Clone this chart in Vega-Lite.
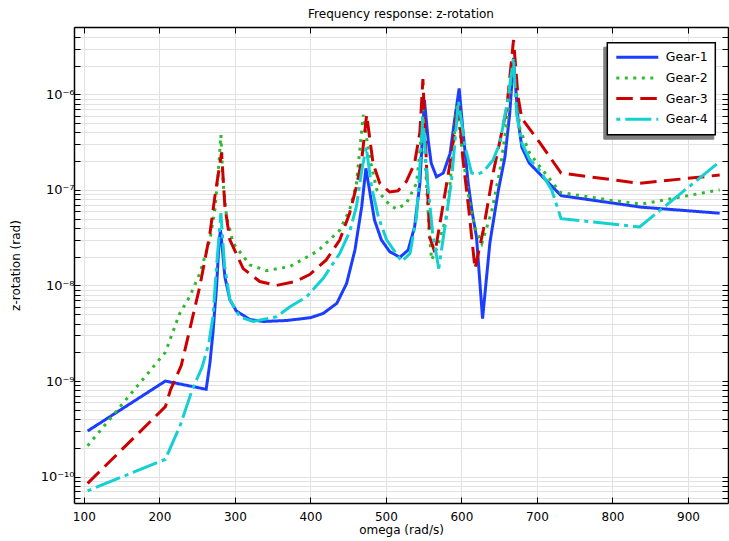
{
  "$schema": "https://vega.github.io/schema/vega-lite/v6.json",
  "width": 654,
  "height": 476,
  "autosize": {"type": "none"},
  "padding": {"left": 74, "top": 27, "right": 1, "bottom": 38},
  "background": "white",
  "title": {"text": "Frequency response: z-rotation", "font": "DejaVu Sans", "fontSize": 12, "fontWeight": "normal", "anchor": "middle", "offset": 0, "color": "black"},
  "config": {"view": {"stroke": null}, "font": "DejaVu Sans"},
  "datasets": {
    "curves": [
      {"gear": "Gear-1", "omega": 105, "z": 3.0e-10},
      {"gear": "Gear-1", "omega": 208, "z": 1.0e-9},
      {"gear": "Gear-1", "omega": 262, "z": 8.2e-10},
      {"gear": "Gear-1", "omega": 267, "z": 1.55e-9},
      {"gear": "Gear-1", "omega": 271, "z": 3.2e-9},
      {"gear": "Gear-1", "omega": 275.8, "z": 9.8e-9},
      {"gear": "Gear-1", "omega": 279, "z": 2.76e-8},
      {"gear": "Gear-1", "omega": 281, "z": 3.8e-8},
      {"gear": "Gear-1", "omega": 283.6, "z": 2.35e-8},
      {"gear": "Gear-1", "omega": 286.8, "z": 1.23e-8},
      {"gear": "Gear-1", "omega": 293.4, "z": 7.1e-9},
      {"gear": "Gear-1", "omega": 302, "z": 5.4e-9},
      {"gear": "Gear-1", "omega": 320, "z": 4.4e-9},
      {"gear": "Gear-1", "omega": 337.5, "z": 4.2e-9},
      {"gear": "Gear-1", "omega": 368.5, "z": 4.3e-9},
      {"gear": "Gear-1", "omega": 400, "z": 4.6e-9},
      {"gear": "Gear-1", "omega": 417, "z": 5.1e-9},
      {"gear": "Gear-1", "omega": 435, "z": 6.5e-9},
      {"gear": "Gear-1", "omega": 448, "z": 1.05e-8},
      {"gear": "Gear-1", "omega": 459, "z": 2.35e-8},
      {"gear": "Gear-1", "omega": 468, "z": 6.7e-8},
      {"gear": "Gear-1", "omega": 473.5, "z": 1.68e-7},
      {"gear": "Gear-1", "omega": 479, "z": 9.2e-8},
      {"gear": "Gear-1", "omega": 485, "z": 4.8e-8},
      {"gear": "Gear-1", "omega": 494, "z": 3.0e-8},
      {"gear": "Gear-1", "omega": 505, "z": 2.26e-8},
      {"gear": "Gear-1", "omega": 518.5, "z": 1.97e-8},
      {"gear": "Gear-1", "omega": 529.5, "z": 2.35e-8},
      {"gear": "Gear-1", "omega": 538, "z": 4.1e-8},
      {"gear": "Gear-1", "omega": 545, "z": 1.17e-7},
      {"gear": "Gear-1", "omega": 551, "z": 8.7e-7},
      {"gear": "Gear-1", "omega": 556, "z": 3.3e-7},
      {"gear": "Gear-1", "omega": 560, "z": 1.9e-7},
      {"gear": "Gear-1", "omega": 567, "z": 1.37e-7},
      {"gear": "Gear-1", "omega": 576, "z": 1.5e-7},
      {"gear": "Gear-1", "omega": 585, "z": 2.4e-7},
      {"gear": "Gear-1", "omega": 591, "z": 5.4e-7},
      {"gear": "Gear-1", "omega": 597, "z": 1.15e-6},
      {"gear": "Gear-1", "omega": 602, "z": 4.2e-7},
      {"gear": "Gear-1", "omega": 609, "z": 1.17e-7},
      {"gear": "Gear-1", "omega": 614, "z": 6.0e-8},
      {"gear": "Gear-1", "omega": 620, "z": 3.2e-8},
      {"gear": "Gear-1", "omega": 628, "z": 4.5e-9},
      {"gear": "Gear-1", "omega": 637.7, "z": 2.8e-8},
      {"gear": "Gear-1", "omega": 649, "z": 1.0e-7},
      {"gear": "Gear-1", "omega": 657.6, "z": 2.2e-7},
      {"gear": "Gear-1", "omega": 664, "z": 6.3e-7},
      {"gear": "Gear-1", "omega": 669, "z": 2.4e-6},
      {"gear": "Gear-1", "omega": 675, "z": 5.4e-7},
      {"gear": "Gear-1", "omega": 680, "z": 2.8e-7},
      {"gear": "Gear-1", "omega": 690, "z": 1.9e-7},
      {"gear": "Gear-1", "omega": 732, "z": 8.7e-8},
      {"gear": "Gear-1", "omega": 838, "z": 6.6e-8},
      {"gear": "Gear-1", "omega": 942, "z": 5.7e-8},

      {"gear": "Gear-2", "omega": 105, "z": 2.1e-10},
      {"gear": "Gear-2", "omega": 208, "z": 2.0e-9},
      {"gear": "Gear-2", "omega": 227, "z": 5.1e-9},
      {"gear": "Gear-2", "omega": 240, "z": 7.6e-9},
      {"gear": "Gear-2", "omega": 253.6, "z": 1.34e-8},
      {"gear": "Gear-2", "omega": 267, "z": 3.0e-8},
      {"gear": "Gear-2", "omega": 273.5, "z": 6.2e-8},
      {"gear": "Gear-2", "omega": 278, "z": 1.5e-7},
      {"gear": "Gear-2", "omega": 281.5, "z": 3.75e-7},
      {"gear": "Gear-2", "omega": 284.5, "z": 1.17e-7},
      {"gear": "Gear-2", "omega": 289, "z": 5.25e-8},
      {"gear": "Gear-2", "omega": 297.8, "z": 2.76e-8},
      {"gear": "Gear-2", "omega": 320, "z": 1.64e-8},
      {"gear": "Gear-2", "omega": 342, "z": 1.43e-8},
      {"gear": "Gear-2", "omega": 373, "z": 1.58e-8},
      {"gear": "Gear-2", "omega": 410, "z": 2.3e-8},
      {"gear": "Gear-2", "omega": 439, "z": 3.8e-8},
      {"gear": "Gear-2", "omega": 452, "z": 6.2e-8},
      {"gear": "Gear-2", "omega": 461, "z": 1.17e-7},
      {"gear": "Gear-2", "omega": 470, "z": 6.1e-7},
      {"gear": "Gear-2", "omega": 477, "z": 2.5e-7},
      {"gear": "Gear-2", "omega": 483, "z": 1.5e-7},
      {"gear": "Gear-2", "omega": 488, "z": 1.0e-7},
      {"gear": "Gear-2", "omega": 505, "z": 6.95e-8},
      {"gear": "Gear-2", "omega": 514, "z": 6.3e-8},
      {"gear": "Gear-2", "omega": 527, "z": 7.2e-8},
      {"gear": "Gear-2", "omega": 540.5, "z": 1.17e-7},
      {"gear": "Gear-2", "omega": 545, "z": 2.5e-7},
      {"gear": "Gear-2", "omega": 549, "z": 6.9e-7},
      {"gear": "Gear-2", "omega": 553, "z": 1.5e-7},
      {"gear": "Gear-2", "omega": 557, "z": 4.0e-8},
      {"gear": "Gear-2", "omega": 560.5, "z": 1.85e-8},
      {"gear": "Gear-2", "omega": 568, "z": 2.5e-8},
      {"gear": "Gear-2", "omega": 580, "z": 5.2e-8},
      {"gear": "Gear-2", "omega": 585, "z": 1.17e-7},
      {"gear": "Gear-2", "omega": 594, "z": 7.7e-7},
      {"gear": "Gear-2", "omega": 602, "z": 2.2e-7},
      {"gear": "Gear-2", "omega": 610, "z": 8.0e-8},
      {"gear": "Gear-2", "omega": 618, "z": 4.0e-8},
      {"gear": "Gear-2", "omega": 627, "z": 2.75e-8},
      {"gear": "Gear-2", "omega": 640, "z": 5.9e-8},
      {"gear": "Gear-2", "omega": 651, "z": 1.6e-7},
      {"gear": "Gear-2", "omega": 660, "z": 5.0e-7},
      {"gear": "Gear-2", "omega": 669, "z": 2.3e-6},
      {"gear": "Gear-2", "omega": 677.5, "z": 4.3e-7},
      {"gear": "Gear-2", "omega": 690.7, "z": 2.4e-7},
      {"gear": "Gear-2", "omega": 704, "z": 1.75e-7},
      {"gear": "Gear-2", "omega": 731, "z": 9.4e-8},
      {"gear": "Gear-2", "omega": 797, "z": 7.8e-8},
      {"gear": "Gear-2", "omega": 838, "z": 7.1e-8},
      {"gear": "Gear-2", "omega": 942, "z": 1.0e-7},

      {"gear": "Gear-3", "omega": 105, "z": 8.5e-11},
      {"gear": "Gear-3", "omega": 208, "z": 5.4e-10},
      {"gear": "Gear-3", "omega": 214.8, "z": 8.1e-10},
      {"gear": "Gear-3", "omega": 229, "z": 1.45e-9},
      {"gear": "Gear-3", "omega": 240.4, "z": 3.5e-9},
      {"gear": "Gear-3", "omega": 253.6, "z": 9.8e-9},
      {"gear": "Gear-3", "omega": 267, "z": 3.5e-8},
      {"gear": "Gear-3", "omega": 273.5, "z": 8.5e-8},
      {"gear": "Gear-3", "omega": 282.4, "z": 2.45e-7},
      {"gear": "Gear-3", "omega": 286.8, "z": 6.7e-8},
      {"gear": "Gear-3", "omega": 293.4, "z": 3.0e-8},
      {"gear": "Gear-3", "omega": 311, "z": 1.5e-8},
      {"gear": "Gear-3", "omega": 333, "z": 1.1e-8},
      {"gear": "Gear-3", "omega": 355, "z": 1.0e-8},
      {"gear": "Gear-3", "omega": 380, "z": 1.1e-8},
      {"gear": "Gear-3", "omega": 399, "z": 1.3e-8},
      {"gear": "Gear-3", "omega": 421, "z": 1.85e-8},
      {"gear": "Gear-3", "omega": 439, "z": 3.0e-8},
      {"gear": "Gear-3", "omega": 452, "z": 5.7e-8},
      {"gear": "Gear-3", "omega": 461, "z": 1.08e-7},
      {"gear": "Gear-3", "omega": 468, "z": 2.06e-7},
      {"gear": "Gear-3", "omega": 474.5, "z": 6.1e-7},
      {"gear": "Gear-3", "omega": 483, "z": 1.9e-7},
      {"gear": "Gear-3", "omega": 492, "z": 1.17e-7},
      {"gear": "Gear-3", "omega": 505, "z": 9.5e-8},
      {"gear": "Gear-3", "omega": 516, "z": 9.8e-8},
      {"gear": "Gear-3", "omega": 527, "z": 1.22e-7},
      {"gear": "Gear-3", "omega": 538, "z": 1.9e-7},
      {"gear": "Gear-3", "omega": 545, "z": 4.0e-7},
      {"gear": "Gear-3", "omega": 549, "z": 1.44e-6},
      {"gear": "Gear-3", "omega": 553, "z": 2.5e-7},
      {"gear": "Gear-3", "omega": 558, "z": 3.2e-8},
      {"gear": "Gear-3", "omega": 565, "z": 2.2e-8},
      {"gear": "Gear-3", "omega": 576, "z": 7.2e-8},
      {"gear": "Gear-3", "omega": 585, "z": 1.9e-7},
      {"gear": "Gear-3", "omega": 596, "z": 8.0e-7},
      {"gear": "Gear-3", "omega": 602, "z": 2.1e-7},
      {"gear": "Gear-3", "omega": 610, "z": 6.0e-8},
      {"gear": "Gear-3", "omega": 618, "z": 1.5e-8},
      {"gear": "Gear-3", "omega": 629, "z": 3.8e-8},
      {"gear": "Gear-3", "omega": 642, "z": 1.5e-7},
      {"gear": "Gear-3", "omega": 660, "z": 7.1e-7},
      {"gear": "Gear-3", "omega": 669, "z": 3.7e-6},
      {"gear": "Gear-3", "omega": 675, "z": 9.4e-7},
      {"gear": "Gear-3", "omega": 680, "z": 5.6e-7},
      {"gear": "Gear-3", "omega": 704, "z": 3.1e-7},
      {"gear": "Gear-3", "omega": 732, "z": 1.5e-7},
      {"gear": "Gear-3", "omega": 836, "z": 1.17e-7},
      {"gear": "Gear-3", "omega": 942, "z": 1.43e-7},

      {"gear": "Gear-4", "omega": 105, "z": 7.1e-11},
      {"gear": "Gear-4", "omega": 208, "z": 1.52e-10},
      {"gear": "Gear-4", "omega": 228, "z": 3.5e-10},
      {"gear": "Gear-4", "omega": 243.5, "z": 8.1e-10},
      {"gear": "Gear-4", "omega": 256.7, "z": 1.4e-9},
      {"gear": "Gear-4", "omega": 265.6, "z": 2.5e-9},
      {"gear": "Gear-4", "omega": 271, "z": 4.7e-9},
      {"gear": "Gear-4", "omega": 275.8, "z": 1.6e-8},
      {"gear": "Gear-4", "omega": 281.5, "z": 5.7e-8},
      {"gear": "Gear-4", "omega": 286.4, "z": 1.6e-8},
      {"gear": "Gear-4", "omega": 293.4, "z": 7.1e-9},
      {"gear": "Gear-4", "omega": 306.6, "z": 4.7e-9},
      {"gear": "Gear-4", "omega": 324, "z": 4.2e-9},
      {"gear": "Gear-4", "omega": 355, "z": 4.7e-9},
      {"gear": "Gear-4", "omega": 373, "z": 6.0e-9},
      {"gear": "Gear-4", "omega": 395, "z": 7.6e-9},
      {"gear": "Gear-4", "omega": 417, "z": 1.19e-8},
      {"gear": "Gear-4", "omega": 439, "z": 2.17e-8},
      {"gear": "Gear-4", "omega": 452, "z": 3.65e-8},
      {"gear": "Gear-4", "omega": 461, "z": 6.7e-8},
      {"gear": "Gear-4", "omega": 468, "z": 1.6e-7},
      {"gear": "Gear-4", "omega": 474, "z": 2.8e-7},
      {"gear": "Gear-4", "omega": 481, "z": 1.08e-7},
      {"gear": "Gear-4", "omega": 490, "z": 5.2e-8},
      {"gear": "Gear-4", "omega": 501, "z": 3.0e-8},
      {"gear": "Gear-4", "omega": 521, "z": 1.78e-8},
      {"gear": "Gear-4", "omega": 532, "z": 2.17e-8},
      {"gear": "Gear-4", "omega": 540.5, "z": 5.2e-8},
      {"gear": "Gear-4", "omega": 545, "z": 1.75e-7},
      {"gear": "Gear-4", "omega": 549, "z": 6.0e-7},
      {"gear": "Gear-4", "omega": 554, "z": 1.5e-7},
      {"gear": "Gear-4", "omega": 562, "z": 3.5e-8},
      {"gear": "Gear-4", "omega": 570, "z": 1.5e-8},
      {"gear": "Gear-4", "omega": 580, "z": 5.2e-8},
      {"gear": "Gear-4", "omega": 587, "z": 1.27e-7},
      {"gear": "Gear-4", "omega": 596, "z": 8.5e-7},
      {"gear": "Gear-4", "omega": 605, "z": 2.8e-7},
      {"gear": "Gear-4", "omega": 613.5, "z": 1.5e-7},
      {"gear": "Gear-4", "omega": 621, "z": 1.45e-7},
      {"gear": "Gear-4", "omega": 629, "z": 1.55e-7},
      {"gear": "Gear-4", "omega": 642, "z": 2.06e-7},
      {"gear": "Gear-4", "omega": 651, "z": 3.1e-7},
      {"gear": "Gear-4", "omega": 662, "z": 9.4e-7},
      {"gear": "Gear-4", "omega": 669, "z": 2.4e-6},
      {"gear": "Gear-4", "omega": 673, "z": 6.3e-7},
      {"gear": "Gear-4", "omega": 680, "z": 3.1e-7},
      {"gear": "Gear-4", "omega": 690.7, "z": 2.06e-7},
      {"gear": "Gear-4", "omega": 704, "z": 1.6e-7},
      {"gear": "Gear-4", "omega": 719.5, "z": 1.0e-7},
      {"gear": "Gear-4", "omega": 732, "z": 5.0e-8},
      {"gear": "Gear-4", "omega": 836, "z": 4.1e-8},
      {"gear": "Gear-4", "omega": 942, "z": 1.97e-7}
    ]
  },
  "data": {"name": "curves"},
  "layer": [
    {
      "mark": {"type": "line", "strokeWidth": 3, "strokeCap": "butt", "strokeJoin": "miter", "clip": true},
      "encoding": {
        "x": {
          "field": "omega", "type": "quantitative",
          "scale": {"domain": [87, 953], "nice": false, "zero": false},
          "axis": {
            "orient": "bottom", "values": [100, 200, 300, 400, 500, 600, 700, 800, 900],
            "grid": true, "gridColor": "#e2e2e2", "gridWidth": 1,
            "tickSize": -6, "tickColor": "black", "tickWidth": 1,
            "domainColor": "black", "domainWidth": 1.5,
            "labelFont": "DejaVu Sans", "labelFontSize": 12, "labelColor": "black", "labelPadding": 14, "labelFlush": false,
            "title": "omega (rad/s)", "titleFont": "DejaVu Sans", "titleFontSize": 12, "titleFontWeight": "normal", "titleColor": "black", "titlePadding": 2
          }
        },
        "y": {
          "field": "z", "type": "quantitative",
          "scale": {"type": "log", "domain": [5.3e-11, 5.06e-6], "nice": false},
          "axis": {
            "orient": "left",
            "values": [6e-11, 7e-11, 8e-11, 9e-11, 1e-10, 2e-10, 3e-10, 4e-10, 5e-10, 6e-10, 7e-10, 8e-10, 9e-10, 1e-9, 2e-9, 3e-9, 4e-9, 5e-9, 6e-9, 7e-9, 8e-9, 9e-9, 1e-8, 2e-8, 3e-8, 4e-8, 5e-8, 6e-8, 7e-8, 8e-8, 9e-8, 1e-7, 2e-7, 3e-7, 4e-7, 5e-7, 6e-7, 7e-7, 8e-7, 9e-7, 1e-6, 2e-6, 3e-6, 4e-6, 5e-6],
            "labelExpr": "abs(log(datum.value)/LN10 - round(log(datum.value)/LN10)) > 0.01 ? '' : round(-log(datum.value)/LN10) == 10 ? '10⁻¹⁰' : round(-log(datum.value)/LN10) == 9 ? '10⁻⁹' : round(-log(datum.value)/LN10) == 8 ? '10⁻⁸' : round(-log(datum.value)/LN10) == 7 ? '10⁻⁷' : '10⁻⁶'",
            "grid": true, "gridColor": "#e2e2e2", "gridWidth": 1,
            "tickSize": -6, "tickColor": "black", "tickWidth": 1,
            "domainColor": "black", "domainWidth": 1.5,
            "labelFont": "DejaVu Sans", "labelFontSize": 13, "labelColor": "black", "labelPadding": 6, "labelFlush": false, "labelOverlap": false,
            "title": "z-rotation (rad)", "titleFont": "DejaVu Sans", "titleFontSize": 12, "titleFontWeight": "normal", "titleColor": "black", "titlePadding": 18
          }
        },
        "color": {
          "field": "gear", "type": "nominal",
          "scale": {"range": ["#1a3dff", "#2fb92f", "#cc0000", "#13d0d3"]},
          "legend": {
            "orient": "none", "legendX": 533.3, "legendY": 15.7, "title": null, "direction": "vertical",
            "symbolType": "stroke", "symbolSize": 1764, "symbolStrokeWidth": 3, "clipHeight": 14, "rowPadding": 6.7,
            "padding": 7.5, "labelOffset": 6, "labelFont": "DejaVu Sans", "labelFontSize": 12.5, "labelColor": "black",
            "fillColor": "white", "strokeColor": "black", "zindex": 2,
            "encode": {"legend": {"update": {"strokeWidth": {"value": 1.5}}}}
          }
        },
        "strokeDash": {
          "field": "gear", "type": "nominal",
          "scale": {"range": [[1, 0], [3, 5.5], [16.5, 7.5], [4, 5, 26, 5]]},
          "legend": {
            "orient": "none", "legendX": 533.3, "legendY": 15.7, "title": null, "direction": "vertical",
            "symbolType": "stroke", "symbolSize": 1764, "symbolStrokeWidth": 3, "clipHeight": 14, "rowPadding": 6.7,
            "padding": 7.5, "labelOffset": 6, "labelFont": "DejaVu Sans", "labelFontSize": 12.5, "labelColor": "black",
            "fillColor": "white", "strokeColor": "black", "zindex": 2,
            "encode": {"legend": {"update": {"strokeWidth": {"value": 1.5}}}}
          }
        },
        "opacity": {
          "field": "gear", "type": "nominal",
          "scale": {"domain": ["Gear-1", "Gear-2", "Gear-3", "Gear-4"], "range": [1, 1]},
          "legend": {
            "orient": "none", "legendX": 529.3, "legendY": 19.7, "title": null, "direction": "vertical",
            "symbolType": "stroke", "symbolSize": 1764, "symbolStrokeWidth": 3, "symbolOpacity": 0, "clipHeight": 14, "rowPadding": 6.7,
            "padding": 7.5, "labelOffset": 50, "labelExpr": "''", "labelFont": "DejaVu Sans", "labelFontSize": 12.5, "labelColor": "transparent", "labelOpacity": 0,
            "fillColor": "#7f7f7f", "strokeColor": "#7f7f7f", "zindex": 1
          }
        }
      }
    },
    {
      "mark": {"type": "line", "opacity": 0, "clip": true},
      "encoding": {
        "x": {
          "field": "omega", "type": "quantitative",
          "axis": {
            "orient": "top", "values": [100, 200, 300, 400, 500, 600, 700, 800, 900],
            "grid": false, "labels": false, "title": null,
            "tickSize": -6, "tickColor": "black", "tickWidth": 1,
            "domainColor": "black", "domainWidth": 1.5
          }
        },
        "y": {
          "field": "z", "type": "quantitative",
          "axis": {
            "orient": "right",
            "values": [6e-11, 7e-11, 8e-11, 9e-11, 1e-10, 2e-10, 3e-10, 4e-10, 5e-10, 6e-10, 7e-10, 8e-10, 9e-10, 1e-9, 2e-9, 3e-9, 4e-9, 5e-9, 6e-9, 7e-9, 8e-9, 9e-9, 1e-8, 2e-8, 3e-8, 4e-8, 5e-8, 6e-8, 7e-8, 8e-8, 9e-8, 1e-7, 2e-7, 3e-7, 4e-7, 5e-7, 6e-7, 7e-7, 8e-7, 9e-7, 1e-6, 2e-6, 3e-6, 4e-6, 5e-6],
            "grid": false, "labels": false, "title": null,
            "tickSize": -6, "tickColor": "black", "tickWidth": 1,
            "domainColor": "black", "domainWidth": 1.5
          }
        }
      }
    }
  ],
  "resolve": {"axis": {"x": "independent", "y": "independent"}}
}
